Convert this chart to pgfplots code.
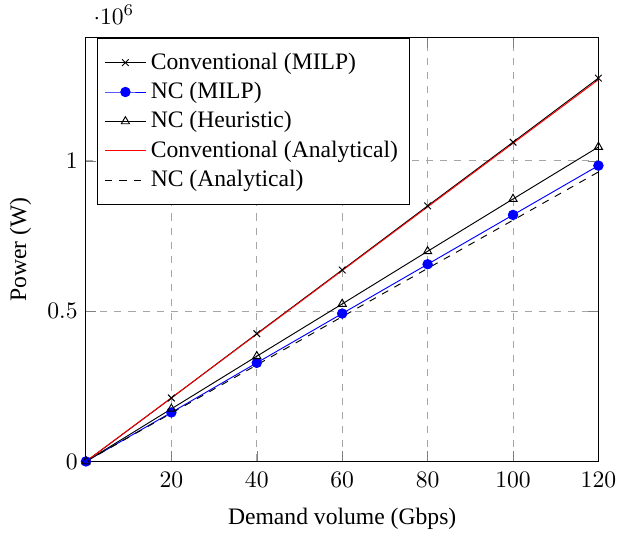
\documentclass[border=0pt]{standalone}
\usepackage{fontspec}
\setmainfont{Liberation Serif}
\usepackage{pgfplots}
\pgfplotsset{compat=1.18}
\begin{document}
\begin{tikzpicture}
\begin{axis}[
  scale only axis,
  width=217pt, height=179.5pt,
  xmin=0, xmax=120, ymin=0, ymax=1.41e6,
  xtick={20,40,60,80,100,120},
  ytick={0,0.5e6,1e6},
  grid=major,
  grid style={dashed, gray!70},
  xticklabel style={yshift=-1pt},
  xlabel={Demand volume (Gbps)},
  xlabel style={at={(axis description cs:0.5,-0.135)}, anchor=center},
  ylabel={Power (W)},
  legend style={at={(0.022,1)}, anchor=north west, legend cell align=left, font=\normalsize, inner ysep=4.2pt},
]
\addplot[black, mark=x] coordinates {(0,0) (20,0.211e6) (40,0.425e6) (60,0.637e6) (80,0.850e6) (100,1.062e6) (120,1.275e6)};
\addlegendentry{Conventional (MILP)}
\addplot[blue, mark=*, mark options={fill=blue}] coordinates {(0,0) (20,0.163e6) (40,0.328e6) (60,0.492e6) (80,0.656e6) (100,0.820e6) (120,0.984e6)};
\addlegendentry{NC (MILP)}
\addplot[black, mark=triangle] coordinates {(0,0) (20,0.175e6) (40,0.350e6) (60,0.524e6) (80,0.699e6) (100,0.873e6) (120,1.046e6)};
\addlegendentry{NC (Heuristic)}
\addplot[red, no marks] coordinates {(0,0) (120,1.27e6)};
\addlegendentry{Conventional (Analytical)}
\addplot[black, dashed, no marks] coordinates {(0,0) (120,0.963e6)};
\addlegendentry{NC (Analytical)}
\end{axis}
\path[use as bounding box] ([shift={(-36.4pt,-31pt)}]current axis.south west) rectangle ([shift={(7.8pt,15.9pt)}]current axis.north east);
\end{tikzpicture}
\end{document}
